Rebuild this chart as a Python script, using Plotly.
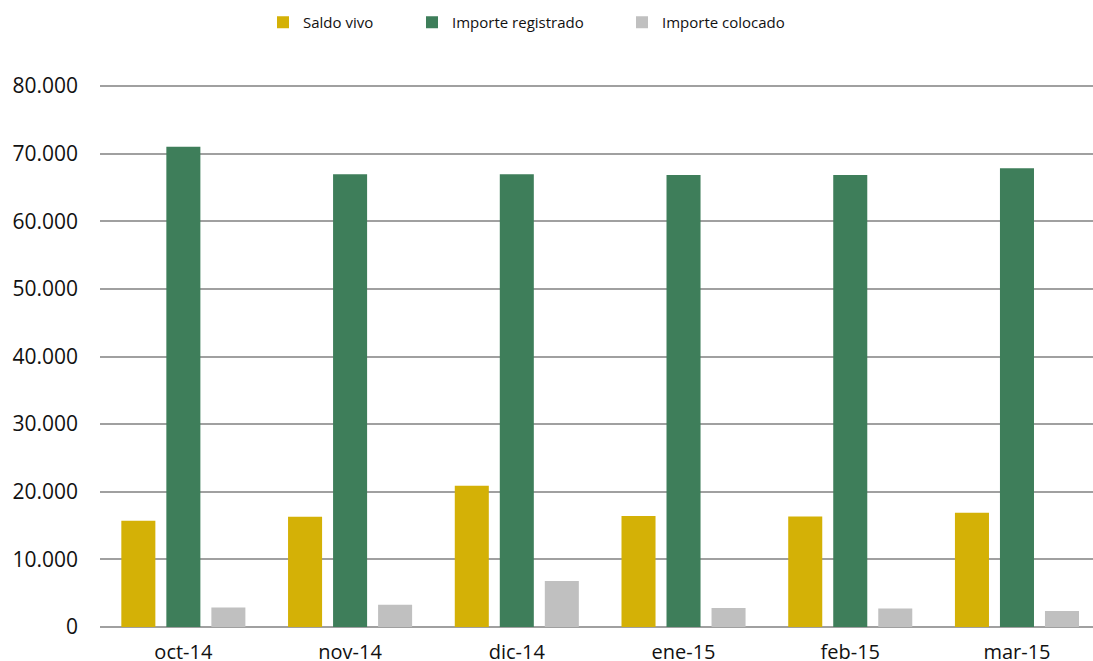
import plotly.graph_objects as go

categories = ["oct-14", "nov-14", "dic-14", "ene-15", "feb-15", "mar-15"]
saldo_vivo = [15700, 16300, 20900, 16400, 16350, 16900]
importe_registrado = [71000, 66950, 66950, 66850, 66850, 67850]
importe_colocado = [2900, 3300, 6800, 2800, 2750, 2350]
y_ticks = [0, 10000, 20000, 30000, 40000, 50000, 60000, 70000, 80000]

FONT = "Open Sans"

fig = go.Figure()
fig.add_trace(go.Bar(name="Saldo vivo", x=categories, y=saldo_vivo, legend="legend",
                     marker=dict(color="#D4B106", line=dict(width=0))))
fig.add_trace(go.Bar(name="Importe registrado", x=categories, y=importe_registrado,
                     legend="legend2",
                     marker=dict(color="#3E7E5A", line=dict(width=0))))
fig.add_trace(go.Bar(name="Importe colocado", x=categories, y=importe_colocado,
                     legend="legend3",
                     marker=dict(color="#C0C0C0", line=dict(width=0))))

def leg(xpx):
    return dict(orientation="h", x=xpx / 1093, xanchor="left", xref="container",
                y=1 - 6 / 661, yanchor="top", yref="container",
                font=dict(size=15, family=FONT, color="#111111"),
                bgcolor="rgba(0,0,0,0)", borderwidth=0)

fig.update_layout(
    width=1093, height=661,
    margin=dict(l=100, r=0, t=82, b=34, autoexpand=False),
    paper_bgcolor="white", plot_bgcolor="white",
    separators=",.",
    barmode="group", bargap=0.19, bargroupgap=0.244,
    font=dict(family=FONT, color="#111111"),
    legend=leg(263), legend2=leg(412), legend3=leg(622),
    showlegend=True,
)

fig.update_xaxes(type="category", range=[-0.5, 5.456], showgrid=False,
                 showline=False, ticks="", tickfont=dict(size=20, family=FONT),
                 ticklabelstandoff=11)
fig.update_yaxes(range=[0, 80000 * 545 / 541], tickvals=y_ticks, tickformat=",d",
                 showgrid=True, gridcolor="#A0A0A0", gridwidth=2,
                 zeroline=True, zerolinecolor="#A0A0A0", zerolinewidth=2,
                 showline=False, ticks="", tickfont=dict(size=21, family=FONT),
                 ticklabelstandoff=21)

fig.write_html("out.html", config={"displayModeBar": False},
               post_script="document.body.style.margin='0';document.body.style.overflow='hidden';")
